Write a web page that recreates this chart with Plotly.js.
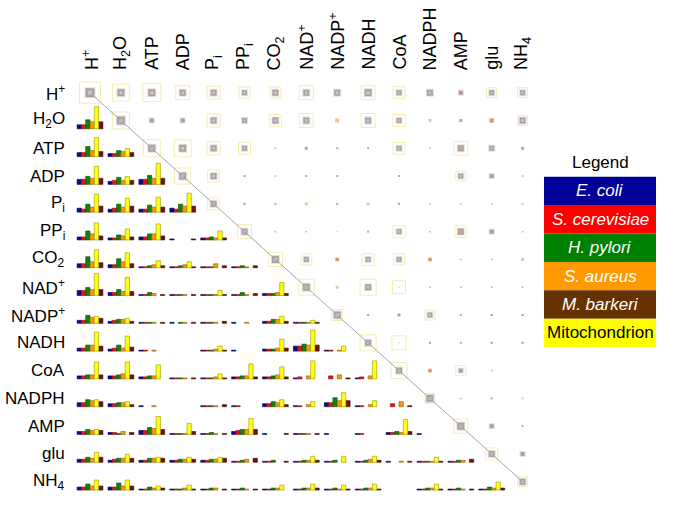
<!DOCTYPE html>
<html><head><meta charset="utf-8">
<script src="https://cdn.plot.ly/plotly-3.0.1.min.js"></script>
<style>html,body{margin:0;padding:0;background:#fff}#chart{width:685px;height:513px}</style>
</head><body><div id="chart"></div>
<script>
// ---------- DATA ----------
const metabolites = ['H<sup>+</sup>','H<sub>2</sub>O','ATP','ADP','P<sub>i</sub>','PP<sub>i</sub>','CO<sub>2</sub>','NAD<sup>+</sup>','NADP<sup>+</sup>','NADH','CoA','NADPH','AMP','glu','NH<sub>4</sub>'];
const organisms = ['E. coli','S. cerevisiae','H. pylori','S. aureus','M. barkeri','Mitochondrion'];

// Lower triangle: per row, per column (j < row), values in organism order
// [E. coli, S. cerevisiae, H. pylori, S. aureus, M. barkeri, Mitochondrion]
const low_H2O  = [[4,4,9,7,7,22]];
const low_ATP  = [[4,4,10,6,5,19],[3,3,6,5,4,8]];
const low_ADP  = [[5,5,8,6,6,18],[3,4,7,4,4,8],[5,5,9,6,6,21]];
const low_Pi   = [[4,3,8,5,6,18],[3,4,8,5,6,14],[3,3,7,5,5,15],[4,3,8,6,6,19]];
const low_PPi  = [[3,3,9,6,4,17],[2,2,5,4,3,11],[3,3,6,6,4,16],[1,0,0,0,1,0],[2,2,3,2,2,9]];
const low_CO2  = [[4,4,11,6,5,18],[3,3,9,6,4,15],[1,1,2,3,2,7],[1,1,2,3,1,6],[1,1,1,4,2,0],[1,1,2,1,2,0]];
const low_NADp = [[5,5,8,6,6,22],[3,3,6,4,4,18],[1,1,3,2,1,0],[1,1,1,1,1,0],[1,1,1,1,1,5],[1,1,3,1,2,0],[2,2,2,3,2,13]];
const low_NADPp= [[3,3,8,6,5,7],[2,3,4,4,2,5],[1,1,1,1,1,0],[1,0,1,1,1,0],[1,1,1,1,2,0],[1,0,0,1,0,0],[2,2,4,4,2,7],[1,1,1,1,1,3]];
const low_NADH = [[3,3,6,6,5,19],[2,3,6,3,4,15],[1,1,0,1,0,0],[0,0,0,0,0,0],[1,1,1,2,1,5],[1,0,0,0,0,0],[2,2,2,3,3,12],[5,5,7,6,6,21],[1,1,0,1,0,5]];
const low_CoA  = [[3,3,4,4,4,17],[3,3,4,5,4,17],[2,2,3,3,0,14],[1,1,1,1,1,0],[1,1,1,2,1,5],[2,2,3,3,2,15],[2,2,3,4,2,12],[1,2,0,3,0,18],[0,3,0,4,1,0],[1,2,0,3,0,18]];
const low_NADPH= [[4,4,7,6,5,7],[3,3,4,4,2,5],[1,0,0,1,0,0],[0,0,0,0,0,0],[1,1,1,1,2,0],[1,1,0,0,0,0],[3,3,5,4,2,7],[1,1,0,2,0,5],[4,4,9,6,6,14],[1,1,0,2,0,6],[0,3,0,5,1,0]];
const low_AMP  = [[3,3,5,4,4,5],[2,2,1,3,2,0],[4,4,7,6,5,18],[1,1,1,1,3,11],[1,1,2,1,1,0],[3,4,5,5,5,16],[1,0,0,0,1,0],[1,1,1,1,1,0],[1,0,0,0,0,0],[1,1,0,0,0,0],[2,2,3,2,3,15],[1,0,0,0,0,0]];
const low_glu  = [[3,3,5,4,5,10],[2,3,4,4,4,8],[2,2,4,4,4,5],[2,2,3,3,3,5],[2,2,3,3,4,5],[1,1,2,3,4,0],[1,1,2,0,1,0],[1,1,2,2,2,6],[1,1,2,0,0,6],[1,1,2,3,2,6],[1,0,0,1,1,0],[1,1,1,1,1,5],[1,1,2,2,3,0]];
const low_NH4  = [[3,3,6,4,4,10],[3,3,7,4,4,10],[1,1,3,2,2,4],[1,1,1,2,1,5],[1,1,2,2,1,0],[1,1,2,1,1,0],[1,1,2,2,0,5],[1,1,2,2,2,6],[1,1,2,1,1,5],[1,1,2,2,1,6],[0,0,0,0,0,0],[1,1,2,2,1,6],[1,1,2,1,1,0],[1,1,3,2,2,8]];

// Upper triangle (j >= row): [mitochondrion, shared core, S. aureus]
const up_H    = [[21,9,0],[17,7,0],[18,7,0],[14,6,0],[13,6,0],[11,5,0],[11,6,0],[14,6,0],[0,6,0],[14,7,0],[12,5,0],[0,6,0],[0,4,3],[10,5,0],[10,5,0]];
const up_H2O  = [[17,8,0],[0,4,0],[0,4,0],[13,6,0],[0,5,0],[12,6,0],[14,6,0],[0,0,4],[14,6,0],[12,5,0],[0,0,3],[0,3,0],[0,3,5],[10,6,0]];
const up_ATP  = [[17,7,0],[17,7,0],[13,6,0],[12,5,0],[0,0,2],[0,3,0],[0,2,0],[0,2,0],[12,5,0],[0,1.5,0],[14,6,3],[0,5,0],[0,3,1]];
const up_ADP  = [[16,7,0],[12,6,0],[0,2,0],[0,0,2],[0,2,0],[0,2,0],[0,0,0],[0,2,0],[0,0,0],[10,5,0],[0,4,0],[0,0,2]];
const up_Pi   = [[12,6,0],[0,2,2],[0,2,0],[0,0,3],[0,2,0],[0,0,3],[0,2,0],[0,0,2],[0,1.5,0],[0,1.5,0],[0,0,2]];
const up_PPi  = [[14,6,0],[0,1.5,0],[0,1.5,0],[0,1,0],[0,2,0],[12,5,0],[0,1.5,0],[12,6,3],[0,4,0],[0,1.5,0]];
const up_CO2  = [[14,7,0],[11,5,0],[0,3,4],[12,5,0],[11,5,0],[0,3,4],[0,1.5,0],[0,1.5,0],[0,0,3]];
const up_NADp = [[16,7,0],[0,0,3],[16,6,0],[13,1,0],[0,1.5,0],[0,1.5,0],[0,1.5,0],[0,1.5,0]];
const up_NADPp= [[11,7,0],[0,2,2],[0,3,2],[10,5,0],[0,2,0],[0,2,2],[0,2,2]];
const up_NADH = [[16,6,0],[14,1,0],[0,2,2],[0,2,0],[0,2,2],[0,2,2]];
const up_CoA  = [[16,6,0],[0,3,4],[10,4,0],[0,1.5,0],[0,0,0]];
const up_NADPH= [[10,7,0],[0,1.5,0],[0,2,1],[0,0,2]];
const up_AMP  = [[14,7,0],[0,4,0],[0,2,0]];
const up_glu  = [[12,6,0],[0,4,1]];
const up_NH4  = [[10,6,0]];

// ---------- STYLE / LAYOUT CONSTANTS ----------
const W = 685, H = 513;
const col0Px = 90, colStep = 30.9, row0Px = 92.7, rowStep = 27.79;
const barColors = ['#0a0a96','#ee1111','#0b870b','#f49a12','#6e1206','#ffff10'];
const barLines  = ['#05054a','#8a0a0a','#064a06','#9a5a08','#3a0a04','#9a9400'];
const legendColors = ['#000099','#ff0000','#008000','#ff9900','#663300','#ffff00'];
const slot = [0,1,2,3,5,4];          // bar order inside a cell
const barW = 4.3 / colStep;          // bar width in column units
const baseOff = 8.3 / rowStep;        // baseline below row centre
const unit = 1 / rowStep;             // value unit -> row units
const FONT = 'Liberation Sans, Arial, sans-serif';

const lowerRows = [low_H2O,low_ATP,low_ADP,low_Pi,low_PPi,low_CO2,low_NADp,low_NADPp,low_NADH,low_CoA,low_NADPH,low_AMP,low_glu,low_NH4];
const upperRows = [up_H,up_H2O,up_ATP,up_ADP,up_Pi,up_PPi,up_CO2,up_NADp,up_NADPp,up_NADH,up_CoA,up_NADPH,up_AMP,up_glu,up_NH4];

const traces = [];
// bars
for (let k = 0; k < 6; k++) {
  const xs=[], ys=[], bs=[];
  lowerRows.forEach((row, ri) => {
    const i = ri + 1;
    row.forEach((cell, j) => {
      const v = cell[k];
      if (!v) return;
      xs.push(j + (slot[k] - 2.5) * barW);
      ys.push(-v * unit);
      bs.push(i + baseOff);
    });
  });
  traces.push({type:'bar', x:xs, y:ys, base:bs, width:barW, name:organisms[k],
    marker:{color:barColors[k], line:{color:barLines[k], width:0.6}}, hoverinfo:'skip'});
}
// upper squares
function upTrace(mk) {
  const xs=[], ys=[], ss=[];
  upperRows.forEach((row, i) => row.forEach((cell, jj) => {
    const s = mk.sizeFn(cell);
    if (s > 0) { xs.push(i + jj); ys.push(i); ss.push(s); }
  }));
  return {type:'scatter', mode:'markers', x:xs, y:ys, hoverinfo:'skip',
    marker:Object.assign({size:ss}, mk.style)};
}
traces.push(upTrace({sizeFn:c=>c[0], style:{symbol:'square-open', color:'rgba(234,230,140,0.95)', line:{width:1}}}));
traces.push(upTrace({sizeFn:c=>c[1] >= 4 ? c[1] + 2 : 0, style:{symbol:'square', color:'#dcd4d4', line:{width:0}}}));
traces.push(upTrace({sizeFn:c=>c[1], style:{symbol:'square', color:'#928686', line:{width:0}}}));
traces.push(upTrace({sizeFn:c=>c[1] >= 5 ? c[1] * 0.45 : 0, style:{symbol:'square', color:'#e7cdd2', line:{width:0}}}));
traces.push(upTrace({sizeFn:c=>c[2], style:{symbol:'square', color:'rgba(226,140,50,0.75)', line:{width:0}}}));
// diagonal
traces.push({type:'scatter', mode:'lines', x:[0, metabolites.length-1], y:[0, metabolites.length-1],
  line:{color:'#a6a6a6', width:1}, hoverinfo:'skip'});

const annotations = [];
metabolites.forEach((m, i) => {
  annotations.push({xref:'x', yref:'y', x:i, y:(72 - row0Px)/rowStep, text:m, textangle:-90,
    xanchor:'center', yanchor:'bottom', showarrow:false, font:{family:FONT, size:18, color:'#000'}});
  annotations.push({xref:'x', yref:'y', x:(67 - col0Px)/colStep, y:i, text:m,
    xanchor:'right', yanchor:'middle', showarrow:false, font:{family:FONT, size:17, color:'#000'}});
});
// legend box
const lgX0 = 544, lgX1 = 656, lgY0 = 176.7, lgH = 28.4;
const px = v => v / W, py = v => 1 - v / H;
const shapes = [];
annotations.push({xref:'paper', yref:'paper', x:px((lgX0+lgX1)/2), y:py(163), text:'Legend',
  xanchor:'center', yanchor:'middle', showarrow:false, font:{family:FONT, size:17, color:'#000'}});
organisms.forEach((o, k) => {
  const y0 = lgY0 + k*lgH, y1 = y0 + lgH;
  shapes.push({type:'rect', xref:'paper', yref:'paper', x0:px(lgX0), x1:px(lgX1), y0:py(y1), y1:py(y0),
    fillcolor:legendColors[k], line:{width:0}, layer:'below'});
  const last = k === organisms.length - 1;
  annotations.push({xref:'paper', yref:'paper', x:px((lgX0+lgX1)/2), y:py((y0+y1)/2),
    text: last ? o : '<i>' + o + '</i>', xanchor:'center', yanchor:'middle', showarrow:false,
    font:{family:FONT, size:17, color: last ? '#000' : '#fff'}});
});

const layout = {
  width:W, height:H, margin:{l:0,r:0,t:0,b:0}, paper_bgcolor:'#fff', plot_bgcolor:'#fff',
  showlegend:false, barmode:'overlay', bargap:0,
  xaxis:{range:[-col0Px/colStep, (W-col0Px)/colStep], visible:false, fixedrange:true},
  yaxis:{range:[(H-row0Px)/rowStep, -row0Px/rowStep], visible:false, fixedrange:true},
  annotations, shapes
};
Plotly.newPlot('chart', traces, layout, {staticPlot:true, displayModeBar:false});
</script></body></html>
